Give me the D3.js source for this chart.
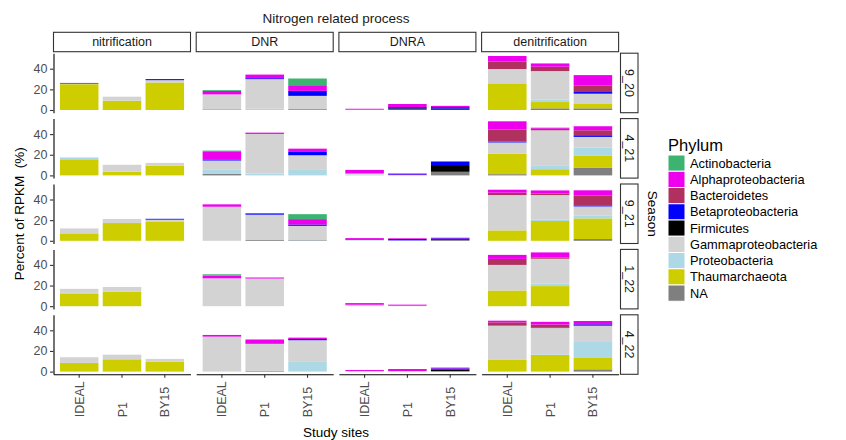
<!DOCTYPE html>
<html>
<head>
<meta charset="utf-8">
<script src="https://cdn.jsdelivr.net/npm/d3@7"></script>
<style>
  body { margin: 0; background: #fff; }
  text { font-family: "Liberation Sans", Arial, Helvetica, sans-serif; }
</style>
</head>
<body>
<svg id="chart" width="846" height="440"></svg>
<script>
// Facets, sites and phyla
const processes = ["nitrification", "DNR", "DNRA", "denitrification"];
const seasons = ["9_20", "4_21", "9_21", "1_22", "4_22"];
const sites = ["IDEAL", "P1", "BY15"];
const phyla = ["Actinobacteria", "Alphaproteobacteria", "Bacteroidetes", "Betaproteobacteria",
               "Firmicutes", "Gammaproteobacteria", "Proteobacteria", "Thaumarchaeota", "NA"];
const phylumColors = ["#3CB371", "#EE00EE", "#B03060", "#0000FF", "#000000",
                      "#D3D3D3", "#ADD8E6", "#CDCD00", "#7F7F7F"];
const yTicks = [0, 20, 40];

// Percent of RPKM per phylum, one row per season and site:
// season, site, Actino, Alpha, Bacteroidetes, Beta, Firmicutes, Gamma, Proteo, Thaum, NA
const nitrification = [
  ["9_20", "IDEAL", 0, 0, 0, 0.6, 0, 0.6, 0, 25.0, 0],
  ["9_20", "P1",    0, 0, 0, 0, 0, 3.9, 0, 9.0, 0],
  ["9_20", "BY15",  0, 0, 0, 1.0, 0, 2.2, 0, 26.7, 0],
  ["4_21", "IDEAL", 0, 0, 0, 0, 0, 0, 1.8, 15.6, 0],
  ["4_21", "P1",    0, 0, 0, 0, 0, 6.8, 0, 3.5, 0],
  ["4_21", "BY15",  0, 0, 0, 0, 0, 2.6, 0, 9.5, 0],
  ["9_21", "IDEAL", 0, 0, 0, 0, 0, 4.8, 0, 7.2, 0],
  ["9_21", "P1",    0, 0, 0, 0, 0, 3.9, 0, 17.2, 0],
  ["9_21", "BY15",  0, 0, 0, 0.8, 0, 2.3, 0, 18.2, 0],
  ["1_22", "IDEAL", 0, 0, 0, 0, 0, 3.9, 1.0, 11.9, 0],
  ["1_22", "P1",    0, 0, 0, 0, 0, 4.5, 0, 14.1, 0],
  ["4_22", "IDEAL", 0, 0, 0, 0, 0, 5.5, 0, 8.4, 0],
  ["4_22", "P1",    0, 0, 0, 0, 0, 4.5, 0, 11.9, 0],
  ["4_22", "BY15",  0, 0, 0, 0, 0, 2.9, 0, 9.4, 0]
];

const dnr = [
  ["9_20", "IDEAL", 0.8, 3.4, 0, 0, 0, 14.5, 0, 0, 0.6],
  ["9_20", "P1",    0, 3.5, 0, 0.9, 0, 28.7, 1.2, 0, 0],
  ["9_20", "BY15",  6.5, 5.5, 0, 4.8, 0, 12.9, 0, 0, 0.8],
  ["4_21", "IDEAL", 1.3, 7.7, 0, 0.6, 0, 9.0, 3.9, 0, 1.5],
  ["4_21", "P1",    0, 0.6, 0, 0.6, 0, 38.4, 1.8, 0, 0],
  ["4_21", "BY15",  0, 3.2, 0, 3.2, 0, 14.2, 5.3, 0, 0],
  ["9_21", "IDEAL", 0, 2.3, 0, 0, 0, 33.0, 0, 0, 0],
  ["9_21", "P1",    0, 0.8, 0, 0.8, 0, 24.5, 0, 0, 0.8],
  ["9_21", "BY15",  4.8, 5.2, 0, 1.3, 0, 12.9, 1.0, 0, 0.6],
  ["1_22", "IDEAL", 1.3, 2.6, 0, 0, 0, 27.0, 0, 0, 0],
  ["1_22", "P1",    0, 1.0, 0, 0, 0, 26.8, 0, 0, 0],
  ["4_22", "IDEAL", 0, 1.6, 0, 0, 0, 33.9, 0, 0, 0],
  ["4_22", "P1",    0, 4.2, 0, 0, 0, 26.1, 0, 0, 0.8],
  ["4_22", "BY15",  0, 1.3, 0, 1.2, 0, 21.0, 9.4, 0, 0]
];

const dnra = [
  ["9_20", "IDEAL", 0, 0.9, 0, 0, 0, 0.3, 0, 0, 0],
  ["9_20", "P1",    0, 3.0, 0, 1.2, 1.2, 0.4, 0, 0, 0],
  ["9_20", "BY15",  0, 1.2, 0, 1.5, 1.0, 0, 0, 0, 0.3],
  ["4_21", "IDEAL", 0, 3.5, 0, 0, 0, 1.0, 0.8, 0, 0],
  ["4_21", "P1",    0, 0.8, 0, 0.8, 0, 0.3, 0, 0, 0],
  ["4_21", "BY15",  0, 0.6, 0, 3.2, 6.5, 0, 0, 0, 3.5],
  ["9_21", "IDEAL", 0, 1.8, 0, 0, 0, 0.4, 0.4, 0, 0],
  ["9_21", "P1",    0, 0.7, 0, 1.3, 0, 0.4, 0, 0, 0],
  ["9_21", "BY15",  0, 0.6, 0, 1.5, 0.3, 0, 0, 0, 0.6],
  ["1_22", "IDEAL", 0, 1.6, 0, 0, 0, 1.4, 0, 0, 0],
  ["1_22", "P1",    0, 0.5, 0, 0.4, 0, 0.6, 0, 0, 0],
  ["4_22", "IDEAL", 0, 1.0, 0, 0, 0, 0.5, 0, 0, 0],
  ["4_22", "P1",    0, 2.0, 0, 0, 0, 0.5, 0, 0, 0],
  ["4_22", "BY15",  0, 0.8, 0, 1.2, 1.5, 0, 0, 0, 0.4]
];

const denitrification = [
  ["9_20", "IDEAL", 0, 5.5, 7.1, 0, 0, 13.9, 0, 25.8, 0],
  ["9_20", "P1",    0, 3.2, 4.2, 0, 0, 27.7, 2.3, 6.1, 1.6],
  ["9_20", "BY15",  0, 10.3, 6.1, 1.6, 0, 9.4, 0, 4.8, 1.6],
  ["4_21", "IDEAL", 0, 8.1, 11.6, 0.8, 0, 11.0, 0, 19.7, 1.2],
  ["4_21", "P1",    0, 1.0, 1.5, 0, 0, 34.5, 3.2, 6.0, 0],
  ["4_21", "BY15",  0, 3.9, 4.8, 1.6, 0, 10.3, 8.1, 11.3, 7.6],
  ["9_21", "IDEAL", 0, 2.9, 2.3, 0, 0, 34.2, 0, 10.1, 0],
  ["9_21", "P1",    0, 2.9, 1.6, 0, 0, 23.5, 1.6, 19.2, 0],
  ["9_21", "BY15",  0, 5.2, 9.4, 1.0, 0, 9.0, 2.6, 20.0, 1.7],
  ["1_22", "IDEAL", 0, 3.9, 5.8, 0, 0, 24.8, 0, 15.2, 0],
  ["1_22", "P1",    0, 4.8, 1.3, 0, 0, 24.2, 2.3, 19.5, 0],
  ["4_22", "IDEAL", 0, 1.6, 3.2, 0, 0, 33.2, 0, 11.3, 0],
  ["4_22", "P1",    0, 2.6, 2.9, 0.5, 0, 25.5, 0.6, 16.1, 0],
  ["4_22", "BY15",  0, 3.2, 0, 1.3, 0, 15.8, 15.5, 11.0, 2.2]
];

const processData = [nitrification, dnr, dnra, denitrification];

// ---- layout ----
const panelLeft = 53.5, panelStep = 142.7, panelW = 137;
const panelTop = 53.2, rowStep = 65.4, panelH = 59.5;
const stripTop = 32.3, stripH = 19.4;
const rowStripX = 620.5, rowStripW = 17.5;

const svg = d3.select("#chart");
const color = d3.scaleOrdinal().domain(phyla).range(phylumColors);

// Turn rows into records keyed by phylum
function toRecords(rows) {
  return rows.map(r => {
    const rec = { season: r[0], site: r[1] };
    phyla.forEach((p, i) => rec[p] = r[i + 2]);
    return rec;
  });
}
const records = processData.map(toRecords);

// NA sits at the bottom of each stack, Actinobacteria on top
const stack = d3.stack().keys(phyla.slice().reverse());

const maxTotal = d3.max(records.flat(), d => d3.sum(phyla, p => d[p]));
const y = d3.scaleLinear()
  .domain([-0.05 * maxTotal, 1.05 * maxTotal])
  .range([panelH, 0]);
const x = d3.scaleBand()
  .domain(sites)
  .range([0, panelW])
  .paddingInner(0.1)
  .paddingOuter(0.15);

// Title
svg.append("text")
  .attr("x", panelLeft + (3 * panelStep + panelW) / 2)
  .attr("y", 22.5)
  .attr("text-anchor", "middle")
  .attr("font-size", 13.5)
  .attr("fill", "#1a1a1a")
  .text("Nitrogen related process");

// Column strips
processes.forEach((proc, c) => {
  const g = svg.append("g").attr("transform", `translate(${panelLeft + c * panelStep},${stripTop})`);
  g.append("rect").attr("width", panelW).attr("height", stripH)
    .attr("fill", "#fff").attr("stroke", "#333").attr("stroke-width", 1.1);
  g.append("text").attr("x", panelW / 2).attr("y", stripH / 2 + 4.5)
    .attr("text-anchor", "middle").attr("font-size", 12.5).attr("fill", "#1a1a1a")
    .text(proc);
});

// Row strips
seasons.forEach((s, r) => {
  const g = svg.append("g").attr("transform", `translate(${rowStripX},${panelTop + r * rowStep})`);
  g.append("rect").attr("width", rowStripW).attr("height", panelH)
    .attr("fill", "#fff").attr("stroke", "#333").attr("stroke-width", 1.1);
  g.append("text")
    .attr("transform", `translate(${rowStripW / 2 - 4.5},${panelH / 2}) rotate(90)`)
    .attr("text-anchor", "middle").attr("font-size", 12.5).attr("fill", "#1a1a1a")
    .text(s);
});

// Panels
processes.forEach((proc, c) => {
  seasons.forEach((season, r) => {
    const g = svg.append("g")
      .attr("transform", `translate(${panelLeft + c * panelStep},${panelTop + r * rowStep})`);
    const rows = records[c].filter(d => d.season === season);
    const series = stack(rows);
    g.selectAll("g.layer")
      .data(series)
      .join("g")
      .attr("class", "layer")
      .attr("fill", d => color(d.key))
      .selectAll("rect")
      .data(d => d)
      .join("rect")
      .attr("x", d => x(d.data.site))
      .attr("width", x.bandwidth())
      .attr("y", d => y(d[1]))
      .attr("height", d => Math.max(0, y(d[0]) - y(d[1])));

    if (c === 0) {
      const ax = g.append("g")
        .call(d3.axisLeft(y).tickValues(yTicks).tickSize(3.5).tickSizeOuter(0).tickPadding(2.5));
      ax.select(".domain").attr("stroke", "#000").attr("stroke-width", 1.1);
      ax.selectAll(".tick line").attr("stroke", "#333").attr("stroke-width", 1.1);
      ax.selectAll(".tick text").attr("font-size", 12.5).attr("fill", "#4d4d4d")
        .attr("font-family", "Liberation Sans, Arial, sans-serif");
    }
    if (r === seasons.length - 1) {
      const ax = g.append("g")
        .attr("transform", `translate(0,${panelH})`)
        .call(d3.axisBottom(x).tickSize(3.5).tickSizeOuter(0).tickPadding(2));
      ax.select(".domain").attr("stroke", "#000").attr("stroke-width", 1.1);
      ax.selectAll(".tick line").attr("stroke", "#333").attr("stroke-width", 1.1);
      ax.selectAll(".tick text")
        .attr("font-size", 12.5).attr("fill", "#4d4d4d")
        .attr("font-family", "Liberation Sans, Arial, sans-serif")
        .attr("text-anchor", "start")
        .attr("dy", null)
        .attr("y", 0)
        .attr("transform", "translate(4.5,43) rotate(-90)");
    }
  });
});

// Axis titles
const plotMidX = panelLeft + (3 * panelStep + panelW) / 2;
const plotMidY = panelTop + (4 * rowStep + panelH) / 2;
svg.append("text")
  .attr("x", plotMidX).attr("y", 437)
  .attr("text-anchor", "middle").attr("font-size", 13.5).attr("fill", "#000")
  .text("Study sites");
svg.append("text")
  .attr("transform", `translate(24,${plotMidY}) rotate(-90)`)
  .attr("text-anchor", "middle").attr("font-size", 13.5).attr("fill", "#000")
  .style("white-space", "pre")
  .text("Percent of RPKM  (%)");
svg.append("text")
  .attr("transform", `translate(647.5,${plotMidY}) rotate(90)`)
  .attr("text-anchor", "middle").attr("font-size", 13.5).attr("fill", "#000")
  .text("Season");

// Legend
const legend = svg.append("g").attr("transform", "translate(668,136)");
legend.append("text").attr("x", 0).attr("y", 15)
  .attr("font-size", 16.5).attr("fill", "#000").text("Phylum");
const item = legend.selectAll("g.item")
  .data(phyla)
  .join("g")
  .attr("class", "item")
  .attr("transform", (d, i) => `translate(0,${19 + i * 16.25})`);
item.append("rect")
  .attr("width", 17).attr("height", 16.25)
  .attr("fill", d => color(d))
  .attr("stroke", "#fff").attr("stroke-width", 1);
item.append("text")
  .attr("x", 22).attr("y", 12.5)
  .attr("font-size", 12.8).attr("fill", "#000")
  .text(d => d);
</script>
</body>
</html>
